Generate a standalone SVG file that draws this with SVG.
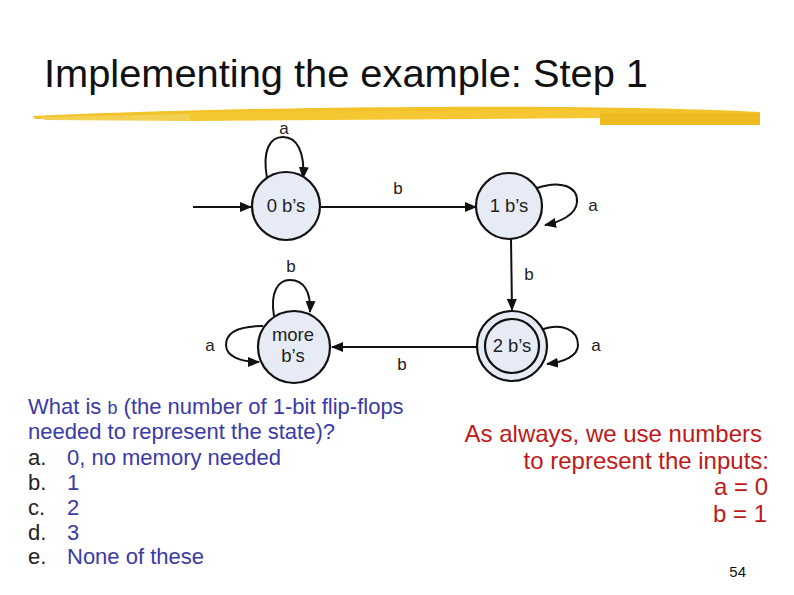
<svg xmlns="http://www.w3.org/2000/svg" width="794" height="595" viewBox="0 0 794 595">
<style>
.lbl{font-family:"Liberation Sans",Arial,sans-serif;font-size:17px;fill:#222}
.nt{font-family:"Liberation Sans",Arial,sans-serif;font-size:18.5px;fill:#222;text-anchor:middle}
.st{fill:#e6ebf5;stroke:#111;stroke-width:2.2}
.ed{fill:none;stroke:#111;stroke-width:2}
.q{font-family:"Liberation Sans",Arial,sans-serif;font-size:22px;fill:#3a3aa8}
.k{fill:#222}
.r{font-family:"Liberation Sans",Arial,sans-serif;font-size:24px;fill:#c01818;text-anchor:end}
</style>
<defs>
<marker id="ah" markerWidth="12" markerHeight="10" refX="11" refY="5" orient="auto" markerUnits="userSpaceOnUse">
<path d="M0,0 L12,5 L0,10 Z" fill="#111"/>
</marker>
</defs>
<rect width="794" height="595" fill="#fff"/>
<text x="44" y="87" font-family="Liberation Sans,Arial,sans-serif" font-size="38" fill="#111" textLength="604" lengthAdjust="spacingAndGlyphs">Implementing the example: Step 1</text>
<g id="brush">
<path d="M33,116 C120,112 250,108 420,107 C560,106 680,108 760,112 L758,120 C660,116 520,115 420,117 C260,119 120,120 35,119 Z" fill="#f2c22a"/>
<path d="M190,112 L600,110 L600,118 L190,121 Z" fill="#f5c833"/>
<rect x="600" y="113" width="160" height="12" fill="#eebc22"/>
<path d="M40,117 L190,114 L190,121 L45,120 Z" fill="#f3cf52"/>
</g>
<g id="connectors">
<line class="ed" x1="193" y1="207" x2="251" y2="207" marker-end="url(#ah)"/>
<line class="ed" x1="320" y1="207" x2="476" y2="207" marker-end="url(#ah)"/>
<path class="ed" d="M267,178 C262,150 270,137 283,137 C297,137 305,152 303,178" marker-end="url(#ah)"/>
<path class="ed" d="M537,188 C560,180 578,186 577,202 C576,215 560,222 545,225" marker-end="url(#ah)"/>
<line class="ed" x1="511" y1="239" x2="512" y2="310" marker-end="url(#ah)"/>
<path class="ed" d="M541,330 C562,322 578,330 578,345 C578,356 564,362 547,364" marker-end="url(#ah)"/>
<line class="ed" x1="477" y1="347" x2="332" y2="347" marker-end="url(#ah)"/>
<path class="ed" d="M274,316 C270,292 278,280 290,280 C304,280 311,292 310,312" marker-end="url(#ah)"/>
<path class="ed" d="M263,326 C240,326 226,332 226,345 C226,356 240,362 259,362" marker-end="url(#ah)"/>
<text class="lbl" x="284" y="134" text-anchor="middle">a</text>
<text class="lbl" x="398" y="194" text-anchor="middle">b</text>
<text class="lbl" x="593" y="211" text-anchor="middle">a</text>
<text class="lbl" x="529" y="280" text-anchor="middle">b</text>
<text class="lbl" x="596" y="351" text-anchor="middle">a</text>
<text class="lbl" x="402" y="370" text-anchor="middle">b</text>
<text class="lbl" x="291" y="272" text-anchor="middle">b</text>
<text class="lbl" x="210" y="351" text-anchor="middle">a</text>
</g>
<g id="s0">
<circle class="st" cx="286" cy="206" r="34"/>
<text class="nt" x="286" y="212">0 b’s</text>
</g>
<g id="s1">
<circle class="st" cx="509" cy="206" r="33"/>
<text class="nt" x="509" y="212">1 b’s</text>
</g>
<g id="s2">
<circle class="st" cx="512" cy="346" r="35"/>
<circle class="st" cx="512" cy="346" r="27"/>
<text class="nt" x="512" y="352">2 b’s</text>
</g>
<g id="smore">
<circle class="st" cx="294" cy="347" r="36"/>
<text class="nt" x="293" y="341">more</text>
<text class="nt" x="293" y="362">b’s</text>
</g>
<g id="question">
<text class="q" x="28" y="414">What is <tspan font-family="Liberation Sans Narrow,Liberation Sans,sans-serif" font-size="18">b</tspan> (the number of 1-bit flip-flops</text>
<text class="q" x="28" y="439">needed to represent the state)?</text>
<text class="q" y="465"><tspan class="k" x="28">a.</tspan><tspan x="67">0, no memory needed</tspan></text>
<text class="q" y="490"><tspan class="k" x="28">b.</tspan><tspan x="67">1</tspan></text>
<text class="q" y="515"><tspan class="k" x="28">c.</tspan><tspan x="67">2</tspan></text>
<text class="q" y="540"><tspan class="k" x="28">d.</tspan><tspan x="67">3</tspan></text>
<text class="q" y="564"><tspan class="k" x="28">e.</tspan><tspan x="67">None of these</tspan></text>
</g>
<g id="note">
<text class="r" x="762" y="442">As always, we use numbers</text>
<text class="r" x="769" y="469">to represent the inputs:</text>
<text class="r" x="768" y="495">a = 0</text>
<text class="r" x="767" y="522">b = 1</text>
</g>
<text x="746" y="577" text-anchor="end" font-family="Liberation Sans,Arial,sans-serif" font-size="15" fill="#111">54</text>
</svg>
